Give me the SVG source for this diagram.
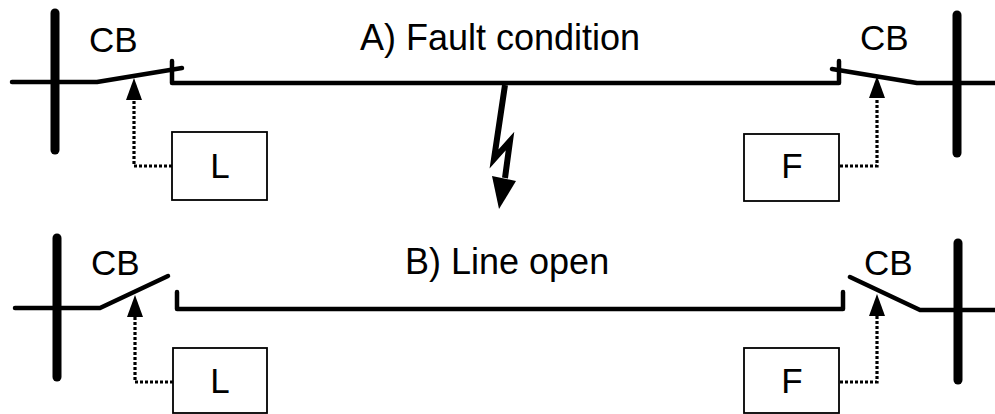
<svg xmlns="http://www.w3.org/2000/svg" width="995" height="414" viewBox="0 0 995 414">
<style>
.bus{stroke:#000;stroke-width:9;stroke-linecap:round;fill:none}
.ln{stroke:#000;stroke-width:4.5;stroke-linecap:round;stroke-linejoin:round;fill:none}
.ctl{stroke:#000;stroke-width:3.2;stroke-dasharray:3,2;fill:none}
.box{fill:#fff;stroke:#000;stroke-width:1.8}
.t{font-family:'Liberation Sans',Arial,sans-serif;font-size:36px;fill:#000}
.tb{font-family:'Liberation Sans',Arial,sans-serif;font-size:35px;fill:#000;text-anchor:middle}
</style>
<rect width="995" height="414" fill="#fff"/>
<!-- Titles -->
<text class="t" x="360" y="50">A) Fault condition</text>
<text class="t" x="405" y="274">B) Line open</text>
<!-- Top section -->
<g id="busA-left"><line class="bus" x1="55" y1="13" x2="55" y2="150"/></g>
<g id="busA-right"><line class="bus" x1="957" y1="15" x2="957" y2="153"/></g>
<g id="cbA-left">
<polyline class="ln" points="12,82 97,82 182,68"/>
<text class="t" x="89" y="52" style="font-size:35px">CB</text>
</g>
<g id="cbA-right">
<polyline class="ln" points="995,83 917,83 832,69"/>
<text class="t" x="860" y="50" style="font-size:35px">CB</text>
</g>
<g id="lineA"><polyline class="ln" points="172,61 172,83 839,83 839,61"/></g>
<g id="relayA-L"><rect class="box" x="172" y="132" width="95" height="68"/><text class="tb" x="220" y="178">L</text></g>
<g id="relayA-F"><rect class="box" x="744" y="134" width="95" height="67"/><text class="tb" x="792" y="178">F</text></g>
<!-- Bottom section -->
<g id="busB-left"><line class="bus" x1="57" y1="238" x2="57" y2="377"/></g>
<g id="busB-right"><line class="bus" x1="958" y1="243" x2="958" y2="380"/></g>
<g id="cbB-left">
<polyline class="ln" points="15,308 100,308 168,276"/>
<text class="t" x="91" y="275" style="font-size:35px">CB</text>
</g>
<g id="cbB-right">
<polyline class="ln" points="995,310 920,310 850,277"/>
<text class="t" x="864" y="275" style="font-size:35px">CB</text>
</g>
<g id="lineB"><polyline class="ln" points="177,292 177,309 843,309 843,292"/></g>
<g id="relayB-L"><rect class="box" x="173" y="348" width="94" height="65"/><text class="tb" x="220" y="393">L</text></g>
<g id="relayB-F"><rect class="box" x="744" y="348" width="95" height="65"/><text class="tb" x="792" y="393">F</text></g>
<!-- Connectors -->
<g id="connectors">
<polyline class="ctl" points="172,166 134,166 134,100"/>
<path d="M134,78 L142,100 L126,100 Z" fill="#000"/>
<polyline class="ctl" points="840,166 877,166 877,98"/>
<path d="M877,76 L885,98 L869,98 Z" fill="#000"/>
<polyline class="ctl" points="173,382 135,382 135,317"/>
<path d="M135,295 L143,317 L127,317 Z" fill="#000"/>
<polyline class="ctl" points="840,382 877,382 877,316"/>
<path d="M877,294 L885,316 L869,316 Z" fill="#000"/>
<g id="fault">
<polyline points="505,85 494,159 510,141 505,178" fill="none" stroke="#000" stroke-width="6" stroke-linejoin="miter"/>
<path d="M492,176 L516,181 L499,209 Z" fill="#000"/>
</g>
</g>
</svg>
